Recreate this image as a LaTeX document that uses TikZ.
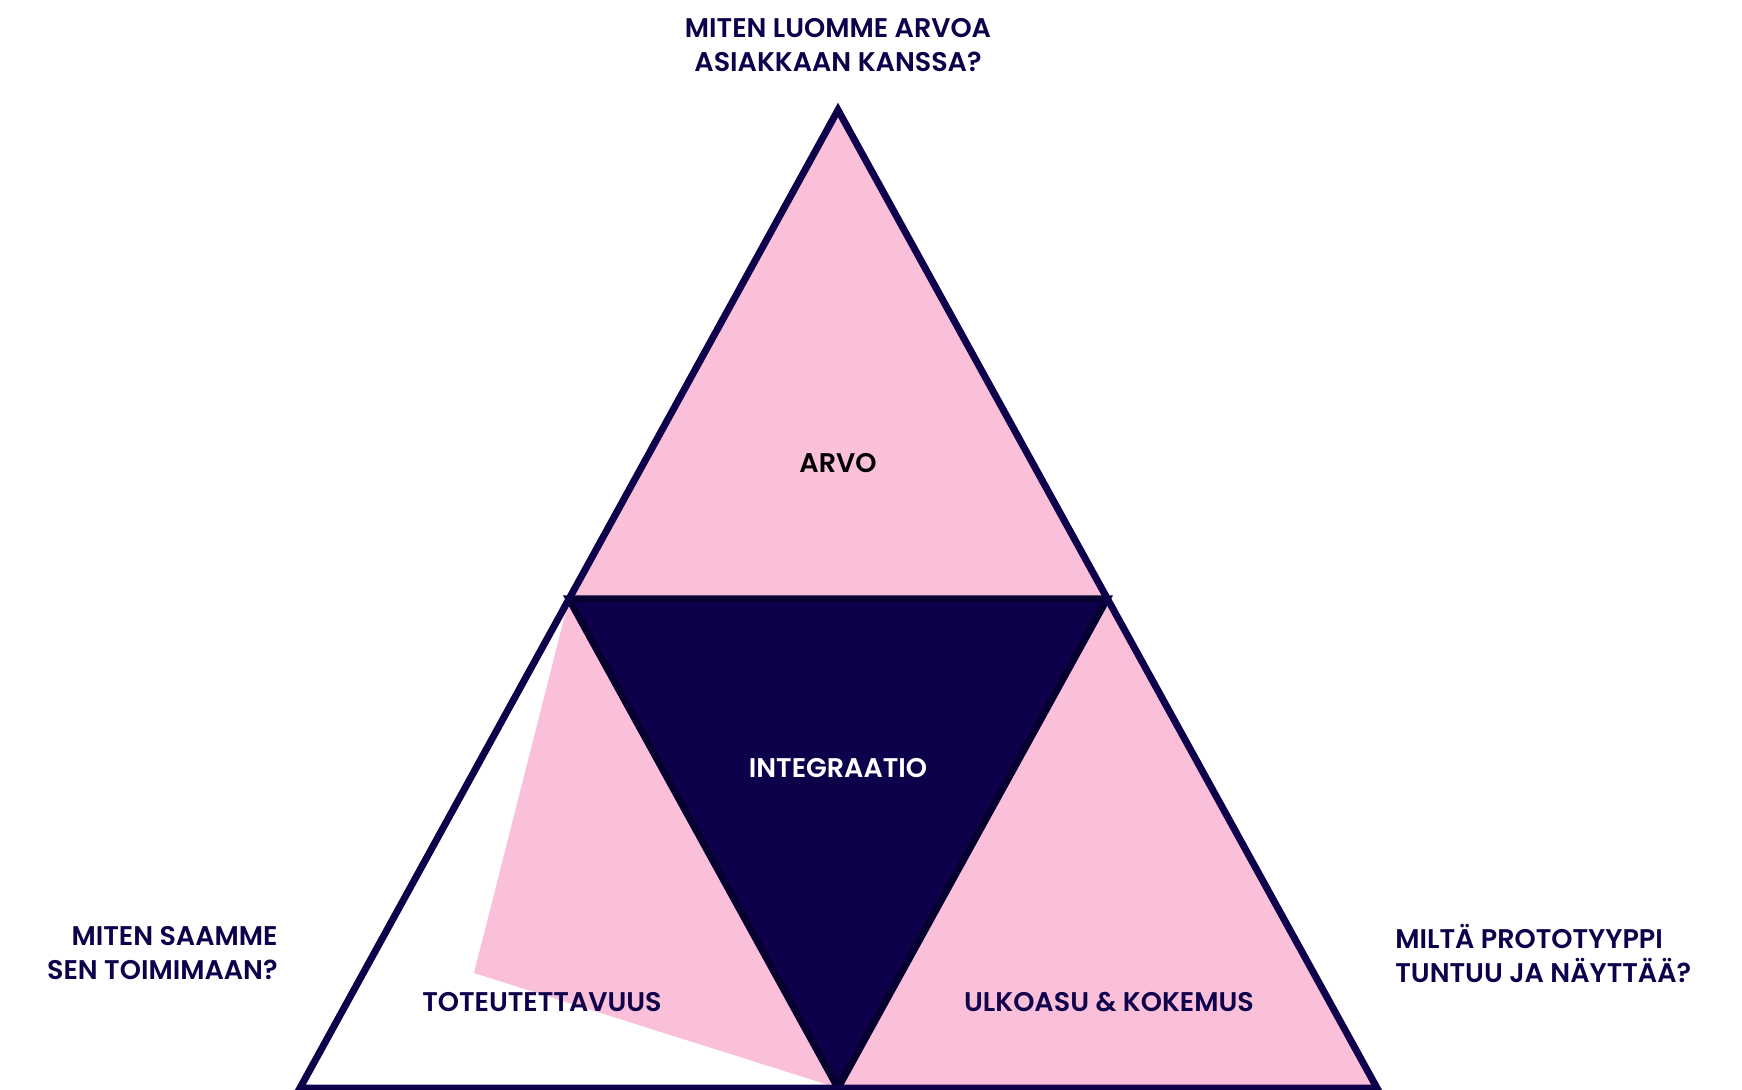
\documentclass[tikz,border=0pt]{standalone}
\usepackage{fontspec}
\setmainfont{Poppins}[BoldFont={Poppins SemiBold}]
\usetikzlibrary{positioning}
\definecolor{navy}{HTML}{0F004B}
\definecolor{ink}{HTML}{060030}
\definecolor{rosa}{HTML}{FBC0D9}

\begin{document}
\begin{tikzpicture}[x=0.5pt,y=-0.5pt,
  lab/.style={font=\fontsize{13.5}{17}\selectfont\bfseries,text=navy,inner sep=0pt},
  edge/.style={line width=3.5pt,line join=miter}]
\useasboundingbox (0,0) rectangle (1742,1090);
% corners of the big triangle and the inner one
\coordinate (top) at (838,110);
\coordinate (bl) at (300,1088);
\coordinate (br) at (1377,1088);
\coordinate (ml) at (569,599);
\coordinate (mr) at (1107,599);
\coordinate (bm) at (838,1088);
\coordinate (kink) at (474,973);
\fill[rosa] (top)--(ml)--(mr)--cycle;
\fill[rosa] (mr)--(br)--(bm)--cycle;
\fill[rosa] (ml)--(kink)--(bm)--cycle;
\filldraw[navy,draw=ink,edge] (ml)--(mr)--(bm)--cycle;
\draw[navy,edge] (top)--(br)--(bl)--cycle;
% labels
\node[lab,align=center] (qtop) at (838,45) {MITEN LUOMME ARVOA\\ASIAKKAAN KANSSA?};
\node[lab,align=right,anchor=east] (qleft) at (278,953) {MITEN SAAMME\\SEN TOIMIMAAN?};
\node[lab,align=left,anchor=west] (qright) at (1395,953) {MILTÄ PROTOTYYPPI\\TUNTUU JA NÄYTTÄÄ?};
\node[lab,text=black] (arvo) at (838,463) {ARVO};
\node[lab,text=white] (integ) at (838,768) {INTEGRAATIO};
\node[lab] (tote) at (542,1002) {TOTEUTETTAVUUS};
\node[lab] (ulko) at (1109,1002) {ULKOASU \& KOKEMUS};
\end{tikzpicture}
\end{document}
